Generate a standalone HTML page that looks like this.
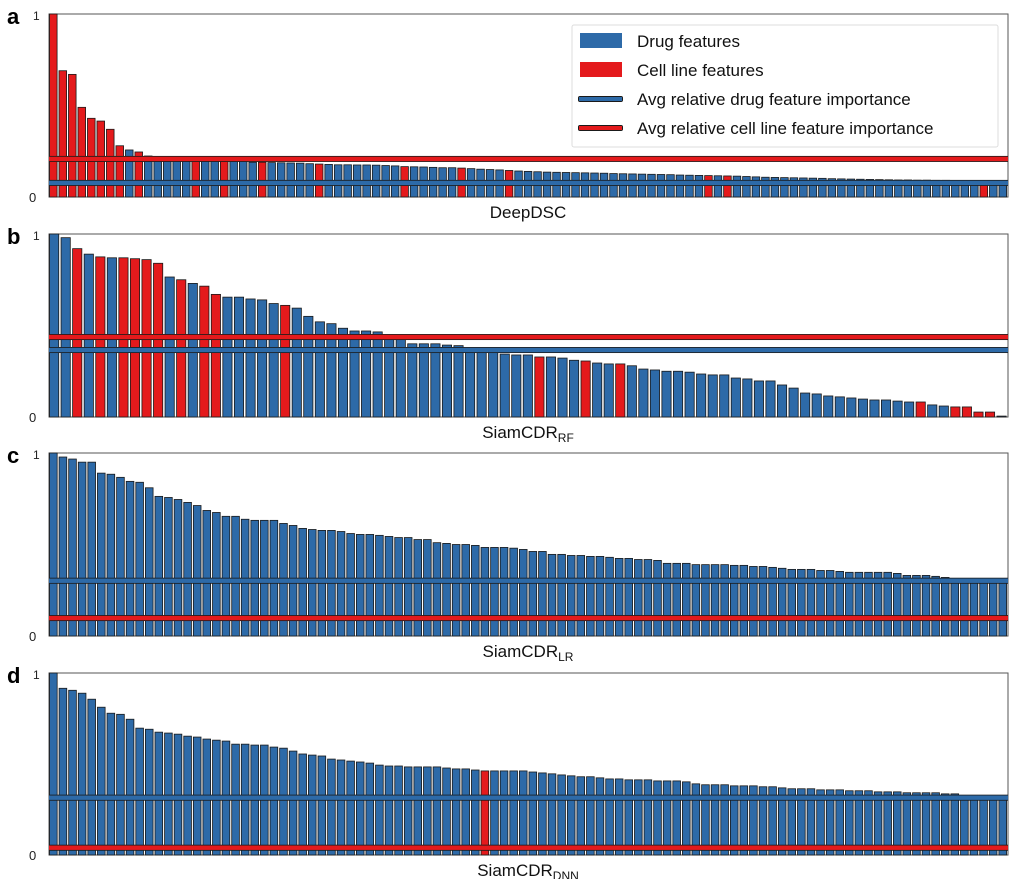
<!DOCTYPE html>
<html><head><meta charset="utf-8">
<style>
html,body{margin:0;padding:0;background:#fff;}
svg{display:block;font-family:"Liberation Sans",Arial,sans-serif;}
</style></head>
<body>
<svg id="chart" width="1013" height="879" viewBox="0 0 1013 879" xmlns="http://www.w3.org/2000/svg"></svg>
<script>
// ---- Panel a: DeepDSC ----
const valuesA = [1.0,0.69,0.67,0.49,0.43,0.415,0.37,0.28,0.257,0.246,0.224,
0.199,0.199,0.199,0.198,0.198,0.198,0.197,0.197,0.197,0.196,0.19,0.19,0.188,0.187,0.186,0.185,0.182,0.18,0.178,
0.176,0.176,0.175,0.175,0.174,0.172,0.17,0.166,0.165,0.164,0.162,0.16,0.16,0.158,0.155,0.152,0.15,0.148,0.145,0.142,
0.14,0.138,0.136,0.135,0.134,0.133,0.132,0.131,0.13,0.128,0.127,0.126,0.125,0.124,0.123,0.122,0.12,0.119,0.118,0.117,
0.116,0.115,0.114,0.112,0.11,0.108,0.107,0.106,0.105,0.104,0.103,0.102,0.1,0.099,0.098,0.097,0.096,0.095,0.094,0.093,
0.093,0.092,0.092,0.091,0.091,0.09,0.09,0.089,0.089,0.087,0.087];
const cellIdxA = [0,1,2,3,4,5,6,7,9,15,18,22,28,37,43,48,69,71,98];
const avgDrugA = 0.077, avgCellA = 0.208;

// ---- Panel b: SiamCDR_RF ----
const valuesB = [1.0,0.98,0.92,0.89,0.875,0.87,0.87,0.865,0.86,0.84,0.765,0.75,0.73,0.715,0.67,0.655,0.655,0.645,0.64,0.62,
0.61,0.595,0.55,0.52,0.51,0.485,0.47,0.47,0.465,0.44,0.44,0.40,0.40,0.40,0.393,0.39,0.37,0.365,0.36,0.344,
0.339,0.339,0.328,0.328,0.322,0.31,0.306,0.295,0.29,0.29,0.28,0.262,0.257,0.25,0.25,0.245,0.235,0.23,0.23,0.213,
0.208,0.197,0.197,0.175,0.158,0.131,0.126,0.115,0.11,0.104,0.098,0.093,0.093,0.087,0.082,0.082,0.066,0.06,0.055,0.055,
0.027,0.027,0.005];
const cellIdxB = [2,4,6,7,8,9,11,13,14,20,42,46,49,75,78,79,80,81];
const avgDrugB = 0.366, avgCellB = 0.437;

// ---- Panel c: SiamCDR_LR ----
const valuesC = [1.0,0.978,0.967,0.95,0.95,0.89,0.884,0.867,0.845,0.84,0.81,0.763,0.757,0.746,0.73,0.713,0.686,0.675,0.654,0.654,
0.638,0.632,0.632,0.632,0.615,0.604,0.588,0.582,0.577,0.577,0.571,0.56,0.555,0.555,0.55,0.544,0.538,0.538,0.527,0.527,
0.51,0.506,0.5,0.5,0.495,0.484,0.484,0.484,0.48,0.473,0.462,0.462,0.446,0.446,0.44,0.44,0.435,0.435,0.43,0.424,
0.424,0.418,0.418,0.413,0.397,0.397,0.397,0.39,0.39,0.39,0.39,0.386,0.386,0.38,0.38,0.375,0.37,0.364,0.364,0.364,
0.358,0.358,0.353,0.348,0.348,0.348,0.348,0.348,0.342,0.331,0.331,0.331,0.326,0.32,0.31,0.308,0.302,0.302,0.302,0.302];
const cellIdxC = [];
const avgDrugC = 0.302, avgCellC = 0.098;

// ---- Panel d: SiamCDR_DNN ----
const valuesD = [1.0,0.916,0.905,0.889,0.856,0.812,0.779,0.773,0.746,0.697,0.691,0.675,0.67,0.664,0.653,0.648,0.637,0.631,0.626,0.609,
0.609,0.604,0.604,0.593,0.587,0.571,0.555,0.549,0.544,0.527,0.522,0.516,0.511,0.505,0.494,0.489,0.489,0.484,0.484,0.484,
0.484,0.478,0.473,0.473,0.467,0.462,0.462,0.462,0.462,0.462,0.456,0.451,0.446,0.44,0.435,0.43,0.43,0.424,0.418,0.418,
0.413,0.413,0.413,0.407,0.407,0.407,0.402,0.391,0.386,0.386,0.386,0.38,0.38,0.38,0.375,0.375,0.369,0.364,0.364,0.364,
0.358,0.358,0.358,0.353,0.353,0.353,0.347,0.347,0.347,0.342,0.342,0.342,0.342,0.336,0.336,0.315,0.315,0.315,0.315,0.315];
const cellIdxD = [45];
const avgDrugD = 0.315, avgCellD = 0.04;

const panelLetters = ["a","b","c","d"];
const panelTitles = ["DeepDSC","SiamCDR","SiamCDR","SiamCDR"];
const panelSubs = ["","RF","LR","DNN"];
const yTickLabels = ["0","1"];

const svg = document.getElementById('chart');
const NS = "http://www.w3.org/2000/svg";
function mk(tag, attrs, parent){const e=document.createElementNS(NS,tag);for(const k in attrs)e.setAttribute(k,attrs[k]);(parent||svg).appendChild(e);return e;}

const BLUE="#2d6aa8", RED="#e41a1c", EDGE="#1a1a1a";
const X0=49, X1=1008;
const panels = [
  {vals:valuesA, cells:cellIdxA, drug:avgDrugA, cell:avgCellA, top:14, bot:197},
  {vals:valuesB, cells:cellIdxB, drug:avgDrugB, cell:avgCellB, top:234, bot:417},
  {vals:valuesC, cells:cellIdxC, drug:avgDrugC, cell:avgCellC, top:453, bot:636},
  {vals:valuesD, cells:cellIdxD, drug:avgDrugD, cell:avgCellD, top:673, bot:855}
];

panels.forEach((p,pi)=>{
  const g = mk('g',{});
  
  
  const yS = v => p.bot - v*(p.bot-p.top);
  const n = p.vals.length, slot=(X1-X0)/n;
  const xS = i => X0 + i*slot;
  const fr = mk('rect',{x:X0,y:p.top,width:X1-X0,height:p.bot-p.top,fill:"#fff",stroke:"#555","stroke-width":1},g);
  
  
  p.vals.forEach((v,i)=>{
    const isCell = p.cells.indexOf(i)>=0;
    const r = mk('rect',{x:xS(i)+0.5,y:yS(v),width:slot*0.8,height:Math.max(0,p.bot-yS(v)),fill:isCell?RED:BLUE,stroke:EDGE,"stroke-width":0.8},g);
    
    
  });
  [[p.drug,BLUE,'avg-drug-importance-line'],[p.cell,RED,'avg-cell-line-importance-line']].forEach(([v,c,nm])=>{
    const y=yS(v);
    const l1 = mk('rect',{x:X0,y:y-3,width:X1-X0,height:6,fill:EDGE},g);
    
    
    const l2 = mk('rect',{x:X0,y:y-2.2,width:X1-X0,height:4.4,fill:c},g);
    
    
  });
  const t = mk('text',{x:7,y:p.top+10,"font-size":22,"font-weight":"bold",fill:"#000"},g);
  t.textContent = panelLetters[pi];
  
  
  const t1 = mk('text',{x:33,y:p.top+6,"font-size":12,fill:"#222"},g);
  t1.textContent = yTickLabels[1];
  
  
  const t0 = mk('text',{x:29,y:p.bot+5,"font-size":13,fill:"#222"},g);
  t0.textContent = yTickLabels[0];
  
  
  const xt = mk('text',{x:528,y:p.bot+21,"font-size":17,fill:"#111","text-anchor":"middle"},g);
  
  
  xt.appendChild(document.createTextNode(panelTitles[pi]));
  if(panelSubs[pi]){
    const ts = document.createElementNS(NS,'tspan');
    ts.setAttribute('font-size','12');
    ts.setAttribute('dy','4');
    ts.textContent = panelSubs[pi];
    xt.appendChild(ts);
  }
});

const lg = mk('g',{});


const lb = mk('rect',{x:572,y:25,width:426,height:122,fill:"#fff",stroke:"#ddd","stroke-width":1,rx:2},lg);


const legendLabels = ["Drug features","Cell line features","Avg relative drug feature importance","Avg relative cell line feature importance"];
legendLabels.forEach((lab,i)=>{
  const cy = 41 + i*29;
  if(i<2){
    const pr = mk('rect',{x:580,y:cy-8,width:42,height:15,fill:i==0?BLUE:RED},lg);
    
    
  } else {
    const o = mk('rect',{x:578,y:cy-3,width:45,height:6,rx:2,fill:EDGE},lg);
    
    
    const ln = mk('rect',{x:579,y:cy-2,width:43,height:4,fill:i==2?BLUE:RED},lg);
    
    
  }
  const tx = mk('text',{x:637,y:cy+6,"font-size":17,fill:"#111"},lg);
  tx.textContent = lab;
  
  
});
</script>
</body></html>
